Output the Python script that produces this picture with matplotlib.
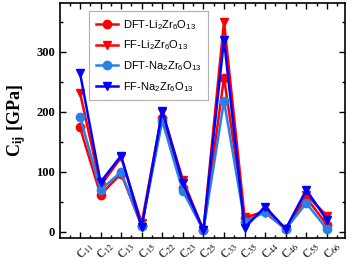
import matplotlib
matplotlib.use("Agg")
import matplotlib.pyplot as plt
from matplotlib.ticker import MultipleLocator

# ── data ──────────────────────────────────────────────────
labels = ["11", "12", "13", "15", "22", "23", "25", "33", "35", "44", "46", "55", "66"]

dft_li = [174, 62, 97, 10, 190, 73, 3, 257, 23, 35, 5, 57, 12]
ff_li  = [232, 77, 124, 15, 200, 87, 3, 350, 25, 32, 5, 62, 27]
dft_na = [192, 70, 100, 10, 185, 68, 3, 218, 17, 33, 5, 48, 5]
ff_na  = [265, 83, 127, 8, 202, 82, 3, 320, 7, 42, 5, 70, 20]

series = [
    (dft_li, r"DFT-Li$_2$Zr$_6$O$_{13}$", "#ff0000", "o"),
    (ff_li,  r"FF-Li$_2$Zr$_6$O$_{13}$",  "#ff0000", "v"),
    (dft_na, r"DFT-Na$_2$Zr$_6$O$_{13}$", "#2a80e8", "o"),
    (ff_na,  r"FF-Na$_2$Zr$_6$O$_{13}$",  "#0000ff", "v"),
]

# ── plot ──────────────────────────────────────────────────
plt.rcParams["mathtext.fontset"] = "custom"
plt.rcParams["mathtext.rm"] = "Liberation Sans"

fig = plt.figure(figsize=(3.54, 2.62), dpi=100)
ax = fig.add_axes([60 / 354, 24 / 262, 285 / 354, 235 / 262])

x = list(range(len(labels)))
for vals, name, col, mk in series:
    ax.plot(x, vals, color=col, marker=mk, markersize=6, linewidth=1.8, label=name)

ax.set_xlim(-0.97, 12.88)
ax.set_ylim(-10, 381)

ax.set_xticks(x)
ax.xaxis.set_minor_locator(MultipleLocator(0.5))
ax.set_xticklabels([])
for xi, lab in zip(x, labels):
    ax.text(xi + 0.33, -13, r"C$_{%s}$" % lab, rotation=45, ha="right", va="top",
            rotation_mode="anchor", fontsize=8.5, family="Liberation Serif",
            transform=ax.transData, math_fontfamily="stix")

ax.yaxis.set_major_locator(MultipleLocator(100))
ax.yaxis.set_minor_locator(MultipleLocator(50))
ax.tick_params(which="both", direction="in", top=True, right=True, width=1)
ax.tick_params(which="major", length=4)
ax.tick_params(which="minor", length=2.5)
ax.tick_params(axis="y", labelsize=9)
for t in ax.get_yticklabels():
    t.set_family("Liberation Serif")
    t.set_weight("bold")
for s in ax.spines.values():
    s.set_linewidth(1.2)

ax.set_ylabel(r"C$_{\mathbf{ij}}$ [GPa]", fontsize=13, family="Liberation Serif",
              fontweight="bold", math_fontfamily="stix", labelpad=6)

leg = ax.legend(loc="upper left", bbox_to_anchor=(0.095, 0.975), fancybox=False,
                prop={"family": "Liberation Sans", "size": 8}, handlelength=2.0,
                handletextpad=0.4, labelspacing=0.62, borderpad=0.6,
                borderaxespad=0.2, framealpha=1)
leg.get_frame().set_edgecolor("#b0b0b0")
leg.get_frame().set_linewidth(0.8)

plt.savefig("out.png", dpi=100)
